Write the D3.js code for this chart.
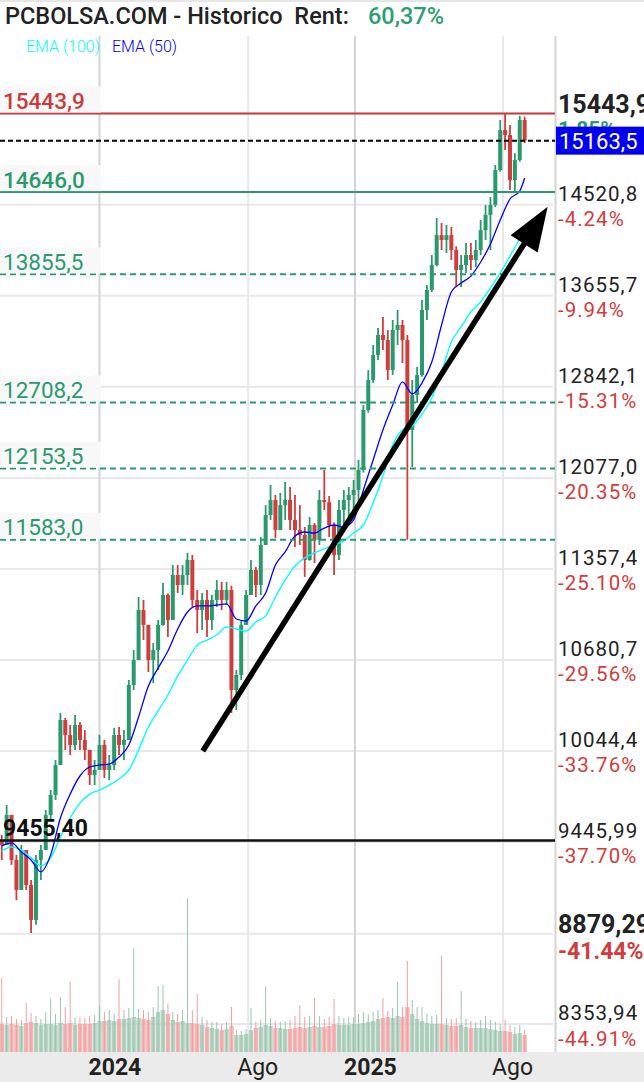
<!DOCTYPE html>
<html><head><meta charset="utf-8">
<script src="https://cdn.jsdelivr.net/npm/d3@7"></script>
<style>
html,body{margin:0;padding:0;background:#fff;}
svg{display:block;font-family:Roboto,"Noto Sans",sans-serif;}
</style>
</head><body>
<svg id="chart" width="644" height="1082"></svg>
<script>
// ---------------- DATA (weekly candles) ----------------
const firstWeek = "2023-08-14";
const firstOpen = 9455.4;
const highs = [9491,9684,9620,9364,9427,9395,9207,9364,9427,9652,
  9783,9983,10305,10270,10222,10291,10242,10188,10051,9983,
  10153,10119,10017,10201,10208,10188,10537,10752,11144,11122,
  10936,10803,10973,11250,11170,11387,11387,11387,11481,11465,
  11197,11174,11197,11159,11273,11258,11258,11230,10608,10973,
  11197,11426,11372,11605,11857,12019,11938,11955,12044,12003,
  11938,11857,11683,11762,11715,11979,12142,11930,11720,11898,
  11979,12003,12060,12224,12686,12988,13210,13362,13462,13345,
  13435,13526,13435,13300,12902,13016,13617,13756,14037,14392,
  14344,14325,14305,14120,14037,14152,14152,14180,14373,14519,
  14598,14917,15376,15443.9,15324,15036,15420,15410];
const lows = [9332,9427,9301,9083,9145,9145,8883,8932,9207,9395,
  9587,9717,9949,10051,10017,10051,10051,9983,9816,9816,
  9916,9863,9849,9916,10017,9983,10119,10466,10680,10825,
  10594,10516,10608,10930,10847,10973,11174,11159,11235,11070,
  10876,10899,10847,10899,11070,11047,11084,10305,10326,10537,
  10936,11159,11144,11159,11542,11739,11597,11660,11739,11660,
  11527,11542,11296,11420,11403,11542,11818,11605,11311,11426,
  11699,11715,11818,11874,12120,12620,12876,13077,13166,12902,
  12945,13210,13050,11583,12166,12703,12930,13435,13690,13930,
  14084,14056,13990,13737,13737,13868,13896,13924,14037,14180,
  14084,14500,14850,15067,14667,14647,14950,15138];
const closes = [9427,9620,9332,9145,9395,9176,8962,9332,9395,9620,
  9750,9949,10256,10153,10085,10222,10119,10051,9883,9916,
  10085,9916,9949,10153,10085,10119,10501,10680,11047,10936,
  10680,10752,10936,11159,10973,11311,11235,11311,11426,11122,
  11047,11122,10973,11122,11197,11122,11197,10466,10573,10936,
  11159,11349,11235,11542,11778,11898,11660,11857,11898,11739,
  11660,11621,11426,11699,11581,11898,11880,11699,11465,11818,
  11898,11938,11979,12142,12643,12902,13121,13300,13255,12989,
  13345,13390,13255,12474,12772,12945,13526,13710,13943,14227,
  14180,14227,14084,13896,13943,14037,13990,14084,14275,14422,
  14519,14866,15272,15221,14766,14967,15376,15163.5];
// volume (arbitrary units): typical weekly level and largest single session
const volAvg = [280,270,280,270,260,290,300,290,270,280,
  280,270,290,280,290,270,280,280,280,290,
  310,310,320,310,330,330,340,350,340,330,
  320,350,400,420,380,320,300,310,290,290,
  280,270,250,240,230,220,230,260,170,170,
  180,220,240,250,270,260,240,240,230,230,
  240,250,240,250,260,250,250,260,280,270,
  270,270,280,280,290,300,310,330,340,350,
  340,360,350,450,380,330,310,290,280,280,
  280,270,260,260,270,250,240,240,240,240,
  230,220,210,210,200,180,190,170];
const volMax = [740,350,360,330,320,490,390,360,330,400,
  530,380,550,450,700,340,350,340,360,370,
  460,400,420,380,730,420,440,1040,430,420,
  400,450,660,670,480,400,380,420,1530,420,
  580,350,320,300,300,280,300,450,220,210,
  230,440,300,320,650,340,310,300,310,320,
  360,470,350,360,540,360,330,350,530,360,
  340,350,350,380,400,380,400,420,540,410,
  440,700,450,910,520,450,450,380,360,370,
  960,340,330,340,610,330,310,300,320,360,
  320,300,280,320,270,250,270,220];
// moving averages read every second week
const emaWeeks = [0,2,4,6,8,10,12,14,16,18,20,22,24,26,28,30,32,34,36,38,40,42,44,46,48,50,
  52,54,56,58,60,62,64,66,68,70,72,74,76,78,80,82,84,86,88,90,92,94,96,98,100,102,104,106,107];
const ema50 = [9421,9440,9383,9332,9257,9364,9600,9756,9876,9936,
  9949,9956,10003,10085,10277,10494,10622,10745,10906,11032,
  11077,11077,11084,11092,10980,10965,11077,11174,11387,11488,
  11613,11644,11636,11675,11699,11683,11739,11979,12224,12474,
  12686,12885,12781,12876,13059,13390,13691,13774,13839,13971,
  14142,14373,14578,14657,14786];
const ema100 = [9389,9414,9395,9345,9295,9345,9478,9600,9697,9756,
  9783,9816,9856,9916,10051,10208,10319,10431,10566,10680,
  10788,10825,10862,10921,10906,10891,10958,11003,11144,11273,
  11380,11442,11481,11512,11542,11574,11636,11699,11874,12092,
  12348,12474,12508,12609,12746,12971,13237,13372,13508,13599,
  13728,13868,14027,14199,14325];
// right axis
const axisValues = [15443.9,14520.8,13655.7,12842.1,12077.0,11357.4,10680.7,10044.4,9445.99,8879.29,8353.94];
const axisLabels = ["15443,9","14520,8","13655,7","12842,1","12077,0","11357,4","10680,7","10044,4","9445,99","8879,29","8353,94"];
const axisPct = [1.85,-4.24,-9.94,-15.31,-20.35,-25.10,-29.56,-33.76,-37.70,-41.44,-44.91];
const axisStrong = [true,false,false,false,false,false,false,false,false,true,false];
// horizontal levels
const levelValues = [15443.9,14646.0,13855.5,12708.2,12153.5,11583.0,9455.40];
const levelLabels = ["15443,9","14646,0","13855,5","12708,2","12153,5","11583,0","9455,40"];
const levelKind = ["red","green","dash","dash","dash","dash","black"];
const lastClose = 15163.5, lastLabel = "15163,5";
// x axis
const xTickDates = ["2024-01-01","2024-08-01","2025-01-01","2025-08-01"];
const xTickLabels = ["2024","Ago","2025","Ago"];
const xTickMajor = [true,false,true,false];
// trend arrow (date, value)
const arrowFrom = ["2024-05-28",10044.4];
const arrowTo = ["2025-10-04",14502];

// ---------------- DRAW ----------------
const W = 644, H = 1082, plotR = 555, plotTop = 36, plotBottom = 1052;
const GREEN = "#2a9a6e", RED = "#cf3d3d";
const parse = d3.timeParse("%Y-%m-%d");
const svg = d3.select("#chart");

const x = d3.scaleTime().domain([parse("2024-01-01"), parse("2025-08-01")]).range([99.5, 503]);
const y = d3.scaleLog().domain([8353.94, 15443.9]).range([1024, 113.5]);
const yv = d3.scaleLinear().domain([0, 1600]).range([plotBottom, 892]);

const weeks = closes.map((c, i) => {
  const d = d3.timeDay.offset(parse(firstWeek), 7 * i);
  const o = i === 0 ? firstOpen : closes[i - 1];
  return {d, o, h: highs[i], l: lows[i], c, va: volAvg[i], vm: volMax[i], up: c >= o};
});

// background pieces
svg.append("rect").attr("x",0).attr("y",0).attr("width",W).attr("height",2).attr("fill","#e6e6e6");
svg.append("rect").attr("x",0).attr("y",plotBottom).attr("width",W).attr("height",H-plotBottom).attr("fill","#ebebeb");

// horizontal gridlines
svg.append("g").selectAll("line").data(axisValues).join("line")
  .attr("x1",0).attr("x2",553).attr("y1",d=>y(d)).attr("y2",d=>y(d))
  .attr("stroke","#e8e8e8").attr("stroke-width",2);
// vertical gridlines
svg.append("g").selectAll("line").data(xTickDates).join("line")
  .attr("x1",d=>x(parse(d))).attr("x2",d=>x(parse(d)))
  .attr("y1",plotTop).attr("y2",plotBottom)
  .attr("stroke",(d,i)=>xTickMajor[i]?"#d4d4d4":"#e8e8e8").attr("stroke-width",2);
// right border
svg.append("line").attr("x1",plotR+0.5).attr("x2",plotR+0.5).attr("y1",plotTop).attr("y2",plotBottom)
  .attr("stroke","#d4d4d4").attr("stroke-width",2);

// volume
const gv = svg.append("g");
gv.selectAll("rect").data(weeks).join("rect")
  .attr("x",d=>x(d.d)-2.2).attr("width",4.4)
  .attr("y",d=>yv(d.va)).attr("height",d=>plotBottom-yv(d.va))
  .attr("fill",d=>d.up?"#a9cdb9":"#f2a9a9").attr("opacity",0.85);
gv.selectAll("line").data(weeks).join("line")
  .attr("x1",d=>x(d.d)).attr("x2",d=>x(d.d))
  .attr("y1",d=>yv(d.vm)).attr("y2",plotBottom)
  .attr("stroke",d=>d.up?"#9cc4ae":"#f0a0a0").attr("stroke-width",1);

// candles
const gc = svg.append("g");
gc.selectAll("line").data(weeks).join("line")
  .attr("x1",d=>x(d.d)).attr("x2",d=>x(d.d))
  .attr("y1",d=>y(d.h)).attr("y2",d=>y(d.l))
  .attr("stroke",d=>d.up?GREEN:RED).attr("stroke-width",1.8);
gc.selectAll("rect").data(weeks).join("rect")
  .attr("x",d=>x(d.d)-2).attr("width",4)
  .attr("y",d=>y(Math.max(d.o,d.c)))
  .attr("height",d=>Math.max(1.5, Math.abs(y(d.o)-y(d.c))))
  .attr("fill",d=>d.up?GREEN:RED);

// EMAs
const emaPts = (arr) => arr.map((v,i)=>({d: weeks[emaWeeks[i]].d, v}));
const lineGen = d3.line().x(p=>x(p.d)).y(p=>y(p.v)).curve(d3.curveMonotoneX);
svg.append("path").attr("d",lineGen(emaPts(ema100))).attr("fill","none").attr("stroke","#00ffff").attr("stroke-width",1.4);
svg.append("path").attr("d",lineGen(emaPts(ema50))).attr("fill","none").attr("stroke","#0000ff").attr("stroke-width",1.3);

// level lines
const gl = svg.append("g");
levelValues.forEach((v,i)=>{
  const k = levelKind[i];
  const col = k==="red"?"#cc3b3b":(k==="black"?"#111":GREEN);
  gl.append("line").attr("x1",0).attr("x2",plotR).attr("y1",y(v)).attr("y2",y(v))
    .attr("stroke",col).attr("stroke-width",k==="black"?2.5:2)
    .attr("stroke-dasharray",k==="dash"?"6,4":null);
});
// last close dashed line
gl.append("line").attr("x1",0).attr("x2",plotR).attr("y1",y(lastClose)).attr("y2",y(lastClose))
  .attr("stroke","#000").attr("stroke-width",2).attr("stroke-dasharray","5,3");

// trend arrow
{
  const x0 = x(parse(arrowFrom[0])), y0 = y(arrowFrom[1]);
  const x1 = x(parse(arrowTo[0])), y1 = y(arrowTo[1]);
  const len = Math.hypot(x1-x0, y1-y0), ux = (x1-x0)/len, uy = (y1-y0)/len;
  const hl = 44, hw = 16;
  const bx = x1-ux*hl, by = y1-uy*hl;
  svg.append("line").attr("x1",x0).attr("y1",y0).attr("x2",bx+ux*4).attr("y2",by+uy*4)
    .attr("stroke","#000").attr("stroke-width",5.5).attr("stroke-linecap","butt");
  svg.append("path").attr("d",`M${x1},${y1}L${bx-uy*hw},${by+ux*hw}L${bx+uy*hw},${by-ux*hw}Z`).attr("fill","#000");
}

// left level labels
const glab = svg.append("g");
levelValues.forEach((v,i)=>{
  const k = levelKind[i], yy = y(v);
  if (k!=="black") {
    glab.append("rect").attr("x",0).attr("y",yy-27).attr("width",101).attr("height",26).attr("fill","#f8f8f8");
  }
  glab.append("text").attr("x",3).attr("y",yy-4.5)
    .attr("font-size",k==="black"?23:22.5)
    .attr("font-weight",k==="black"?700:(k==="dash"?400:500))
    .attr("fill",k==="red"?"#cc3b3b":(k==="black"?"#111":GREEN))
    .text(levelLabels[i]);
});

// right axis labels
const ga = svg.append("g");
axisValues.forEach((v,i)=>{
  const yy = y(v), strong = axisStrong[i];
  ga.append("text").attr("x",558).attr("y",strong?yy-1:yy-4)
    .attr("font-size",strong?25:20.5).attr("font-weight",strong?700:400)
    .attr("letter-spacing",strong?0:1).attr("fill","#222").text(axisLabels[i]);
  const p = axisPct[i];
  ga.append("text").attr("x",558).attr("y",strong?yy+(i===0?22:25):yy+21.5)
    .attr("font-size",strong?(i===0?21:23):20.5).attr("font-weight",strong?700:400)
    .attr("letter-spacing",strong?0:1)
    .attr("fill",p>0?GREEN:"#d23c3c").text(p.toFixed(2)+"%");
});
// last close box
ga.append("rect").attr("x",556).attr("y",y(lastClose)-14).attr("width",W-556).attr("height",28).attr("fill","#0000ee");
ga.append("text").attr("x",559).attr("y",y(lastClose)+8.5).attr("font-size",22).attr("fill","#fff").text(lastLabel);

// x axis labels
svg.append("g").selectAll("text").data(xTickDates).join("text")
  .attr("x",d=>x(parse(d))-11).attr("y",1075)
  .attr("font-size",23).attr("font-weight",(d,i)=>xTickMajor[i]?700:400)
  .attr("fill","#222").text((d,i)=>xTickLabels[i]);

// title and legend
const title = svg.append("text").attr("x",5).attr("y",24).attr("font-size",23.5).attr("font-weight",500).attr("fill","#222");
title.append("tspan").text("PCBOLSA.COM - Historico  Rent:");
title.append("tspan").attr("x",368).attr("fill","#2e9e70").text("60,37%");
title.attr("xml:space","preserve").style("white-space","pre");
svg.append("text").attr("x",26).attr("y",52).attr("font-size",16).attr("font-weight",300).attr("fill","#00ffff").text("EMA (100)");
svg.append("text").attr("x",112).attr("y",52).attr("font-size",16).attr("font-weight",300).attr("fill","#0000ff").text("EMA (50)");
</script>
</body></html>
